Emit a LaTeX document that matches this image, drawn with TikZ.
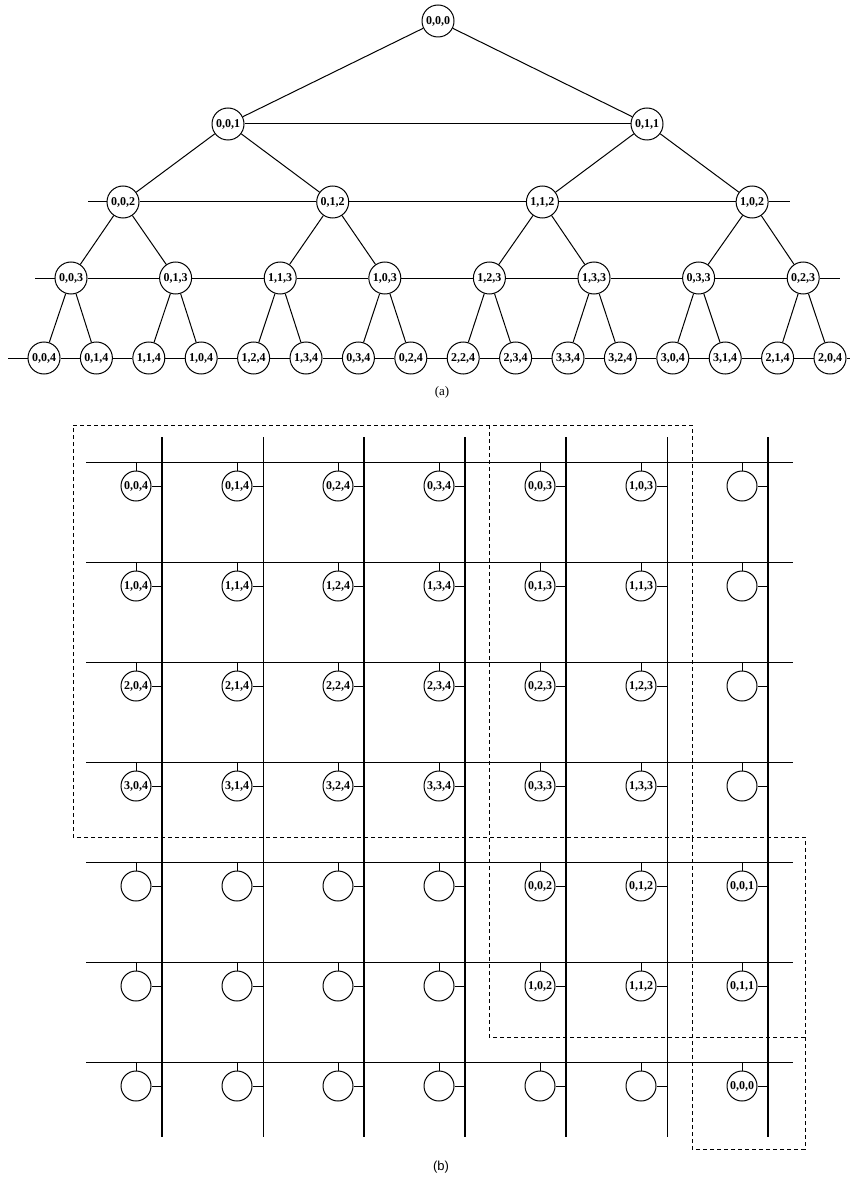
\documentclass[tikz,border=0pt]{standalone}
\usepackage{fontspec}
\setmainfont{Liberation Serif}
\setsansfont{Liberation Sans}
\tikzset{
  tnode/.style={draw,circle,minimum size=32pt,inner sep=0pt,font=\bfseries\fontsize{12}{12}\selectfont},
  bnode/.style={draw,circle,minimum size=30pt,inner sep=0pt,font=\bfseries\fontsize{12}{12}\selectfont},
  faint/.style={line width=0.6pt},
  region/.style={line width=1pt,dash pattern=on 4pt off 3pt}
}
\begin{document}
\begin{tikzpicture}[x=1pt,y=-1pt,line width=1pt]
          \useasboundingbox (0,0) rectangle (857,1182);
          \node[tnode] (a0-0) at (438,21) {0,0,0};
          \node[tnode] (a1-0) at (228,124) {0,0,1};
          \node[tnode] (a1-1) at (647,124) {0,1,1};
          \foreach \lab [count=\i from 0] in {{0,0,2},{0,1,2},{1,1,2},{1,0,2}}
            \node[tnode] (a2-\i) at (123+209.7*\i,202) {\lab};
          \foreach \lab [count=\i from 0] in {{0,0,3},{0,1,3},{1,1,3},{1,0,3},{1,2,3},{1,3,3},{0,3,3},{0,2,3}}
            \node[tnode] (a3-\i) at (71+104.6*\i,278) {\lab};
          \foreach \lab [count=\i from 0] in {{0,0,4},{0,1,4},{1,1,4},{1,0,4},{1,2,4},{1,3,4},{0,3,4},{0,2,4},
                                              {2,2,4},{2,3,4},{3,3,4},{3,2,4},{3,0,4},{3,1,4},{2,1,4},{2,0,4}}
            \node[tnode] (a4-\i) at (44+52.4*\i,358) {\lab};
          \foreach \l/\n [evaluate=\l as \k using int(\l+1)] in {0/0,1/1,2/3,3/7}
            \foreach \i in {0,...,\n} {
              \pgfmathtruncatemacro{\ja}{2*\i}
              \pgfmathtruncatemacro{\jb}{2*\i+1}
              \draw (a\l-\i) -- (a\k-\ja);
              \draw (a\l-\i) -- (a\k-\jb);
            }
          \draw (a1-0) -- (a1-1);
          \coordinate (a2l) at (88,202);
          \coordinate (a2r) at (790,202);
          \coordinate (a3l) at (35,278);
          \coordinate (a3r) at (840,278);
          \coordinate (a4l) at (8,358);
          \coordinate (a4r) at (850,358);
          \draw (a2l) -- (a2-0);
          \draw (a2-3) -- (a2r);
          \draw (a3l) -- (a3-0);
          \draw (a3-7) -- (a3r);
          \draw (a4l) -- (a4-0);
          \draw (a4-15) -- (a4r);
          \foreach \l/\n in {2/2,3/6,4/14}
            \foreach \i in {0,...,\n} {
              \pgfmathtruncatemacro{\j}{\i+1}
              \draw (a\l-\i) -- (a\l-\j);
            }
          \node[font=\fontsize{13}{14}\selectfont] (capa) at (442,392) {(a)};

          \foreach \r in {0,...,6} {
            \coordinate (hl\r) at (86,462+100*\r);
            \coordinate (hr\r) at (793,462+100*\r);
            \draw (hl\r) -- (hr\r);
          }
          \foreach \c in {0,...,6} {
            \coordinate (vt\c) at (162+101*\c,437);
            \coordinate (vb\c) at (162+101*\c,1137);
          }
          \foreach \c in {0,2,3,4,6}
            \draw[line width=1.1pt] (vt\c) -- (vb\c);
          \foreach \c in {1,5}
            \draw[faint] (vt\c) -- (vb\c);
          \foreach \lab [count=\c from 0] in {{0,0,4},{0,1,4},{0,2,4},{0,3,4},{0,0,3},{1,0,3},{}}
            \node[bnode] (b0\c) at (136+101*\c,486) {\lab};
          \foreach \lab [count=\c from 0] in {{1,0,4},{1,1,4},{1,2,4},{1,3,4},{0,1,3},{1,1,3},{}}
            \node[bnode] (b1\c) at (136+101*\c,586) {\lab};
          \foreach \lab [count=\c from 0] in {{2,0,4},{2,1,4},{2,2,4},{2,3,4},{0,2,3},{1,2,3},{}}
            \node[bnode] (b2\c) at (136+101*\c,686) {\lab};
          \foreach \lab [count=\c from 0] in {{3,0,4},{3,1,4},{3,2,4},{3,3,4},{0,3,3},{1,3,3},{}}
            \node[bnode] (b3\c) at (136+101*\c,786) {\lab};
          \foreach \lab [count=\c from 0] in {{},{},{},{},{0,0,2},{0,1,2},{0,0,1}}
            \node[bnode] (b4\c) at (136+101*\c,886) {\lab};
          \foreach \lab [count=\c from 0] in {{},{},{},{},{1,0,2},{1,1,2},{0,1,1}}
            \node[bnode] (b5\c) at (136+101*\c,986) {\lab};
          \foreach \lab [count=\c from 0] in {{},{},{},{},{},{},{0,0,0}}
            \node[bnode] (b6\c) at (136+101*\c,1086) {\lab};
          \foreach \r in {0,...,6}
            \foreach \c in {0,...,6} {
              \draw (b\r\c.north) -- (b\r\c.north |- hl\r);
              \draw (b\r\c.east) -- (b\r\c.east -| vt\c);
            }
          \draw[region] (73,425) -- (692,425) -- (692,837) -- (805,837) -- (805,1149)
            -- (692,1149) -- (692,1037) -- (489,1037) -- (489,837) -- (73,837) -- cycle;
          \draw[region] (489,425) -- (489,837) -- (692,837) -- (692,1037) -- (805,1037);
          \node[font=\sffamily\fontsize{13}{14}\selectfont] (capb) at (441,1167) {(b)};
        \end{tikzpicture}
\end{document}
